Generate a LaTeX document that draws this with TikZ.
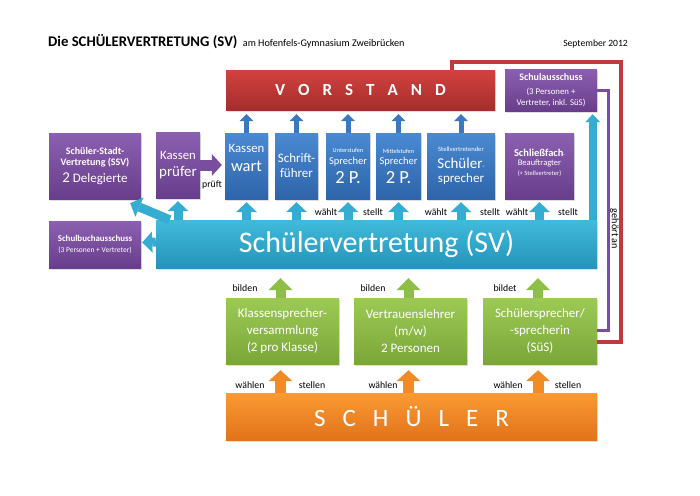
\documentclass[tikz,border=0pt]{standalone}
\usepackage{fontspec}
\setmainfont{Carlito}
\usetikzlibrary{arrows.meta,calc,shadows}
\definecolor{redT}{HTML}{D2423F}
\definecolor{redB}{HTML}{A52D2B}
\definecolor{redL}{HTML}{C0393B}
\definecolor{bluT}{HTML}{4A8AD2}
\definecolor{bluB}{HTML}{2E64AA}
\definecolor{bluA}{HTML}{3A78C2}
\definecolor{purT}{HTML}{8C60B0}
\definecolor{purB}{HTML}{673D8C}
\definecolor{purA}{HTML}{7A4E9E}
\definecolor{cyaT}{HTML}{40BADB}
\definecolor{cyaB}{HTML}{2494B8}
\definecolor{cyaA}{HTML}{35ACD2}
\definecolor{grnT}{HTML}{9DCA55}
\definecolor{grnB}{HTML}{79A638}
\definecolor{grnA}{HTML}{8DBF48}
\definecolor{orgT}{HTML}{FA9A33}
\definecolor{orgB}{HTML}{E2731A}
\definecolor{orgA}{HTML}{F38B25}
\newcommand\fs[2]{\fontsize{#1}{#2}\selectfont}
\begin{document}
\begin{tikzpicture}[x=1pt,y=-1pt,
  box/.style={inner sep=1pt, align=center, text=white,
    drop shadow={opacity=0.25, shadow xshift=1pt, shadow yshift=-1.5pt}},
  redbox/.style={box, top color=redT, bottom color=redB},
  bluebox/.style={box, top color=bluT, bottom color=bluB},
  purbox/.style={box, top color=purT, bottom color=purB},
  cyabox/.style={box, top color=cyaT, bottom color=cyaB},
  grnbox/.style={box, top color=grnT, bottom color=grnB},
  orgbox/.style={box, top color=orgT, bottom color=orgB},
  lbl/.style={inner sep=0pt, font=\fs{9.8}{11}, text=black},
  bluearr/.style={draw=bluA, line width=5pt, -{Triangle[length=7pt,width=14pt,line width=0pt]}},
  cyaarr/.style={draw=cyaA, line width=9pt, -{Triangle[length=10pt,width=21pt,line width=0pt]}},
  cyaarrs/.style={draw=cyaA, line width=8pt, -{Triangle[length=8pt,width=15pt,line width=0pt]}},
  purarr/.style={draw=purA, line width=11pt, -{Triangle[length=10pt,width=22pt,line width=0pt]}},
  grnarr/.style={draw=grnA, line width=10pt, -{Triangle[length=12pt,width=24pt,line width=0pt]}},
  orgarr/.style={draw=orgA, line width=11pt, -{Triangle[length=11pt,width=24pt,line width=0pt]}},
  redline/.style={draw=redL, line width=4pt},
  purline/.style={draw=purA, line width=3pt},
]
\path[use as bounding box, fill=white] (0,0) rectangle (700,495);

% title
\node[anchor=base west, inner sep=0pt, font=\fs{14.7}{17}\bfseries] (title) at (48,46) {Die SCHÜLERVERTRETUNG (SV)};
\node[anchor=base west, inner sep=0pt, font=\fs{10.2}{12}] (sub) at ($(title.base east)+(5,0)$) {am Hofenfels-Gymnasium Zweibrücken};
\node[anchor=base east, inner sep=0pt, font=\fs{9.6}{11}] (date) at (628,46) {September 2012};

% nodes
\node[redbox, minimum width=269pt, minimum height=40pt, font=\fs{17}{20}\bfseries] (vs) at (360.5,90)
  {V\hspace{13pt}O\hspace{13pt}R\hspace{13pt}S\hspace{13pt}T\hspace{13pt}A\hspace{13pt}N\hspace{13pt}D};
\node[purbox, minimum width=92pt, minimum height=42pt, font=\fs{8}{10.5}] (sa) at (551,90)
  {\fs{10}{11}\bfseries Schulausschuss\\[3.5pt]\fs{8.8}{10}(3 Personen +\\\fs{8.8}{10}Vertreter, inkl. SüS)};
\node[purbox, minimum width=92pt, minimum height=66pt, font=\fs{9}{11}] (ssv) at (95,166)
  {\fs{10}{11}\bfseries Schüler-Stadt-\\\fs{10}{11}\bfseries Vertretung (SSV)\\[5pt]\fs{13}{15}{\fs{15}{15}2} Delegierte};
\node[purbox, minimum width=44pt, minimum height=66pt, font=\fs{12}{17.5}] (kp) at (178,165)
  {\fs{12.8}{15}Kassen\\\fs{14.9}{16}prüfer};
\node[bluebox, minimum width=43pt, minimum height=66pt, font=\fs{12}{19.5}] (kw) at (246.5,166)
  {\fs{12.8}{14}Kassen\\\fs{16.5}{18}wart\\[-3pt]\mbox{}};
\node[bluebox, minimum width=43pt, minimum height=66pt, font=\fs{12}{15}] (sf) at (296.5,166)
  {\fs{13}{14}Schrift-\\\fs{13}{14}führer};
\node[bluebox, minimum width=44pt, minimum height=66pt, font=\fs{8}{11.5}] (us) at (348,166)
  {\fs{6.3}{7}Unterstufen\\\fs{10.5}{11}Sprecher\\[4pt]\fs{18.5}{20}2 P.};
\node[bluebox, minimum width=45pt, minimum height=66pt, font=\fs{8}{11.5}] (ms) at (398.5,166)
  {\fs{6.3}{7}Mittelstufen\\\fs{10.5}{11}Sprecher\\[4pt]\fs{18.5}{20}2 P.};
\node[bluebox, minimum width=68pt, minimum height=66pt, font=\fs{10}{14.5}] (stv) at (461,166)
  {\fs{6.6}{7}Stellvertretender\\[2.5pt]\fs{15}{16}Schüler{\fs{7}{8}-}\\\fs{13}{15}sprecher};
\node[purbox, minimum width=69pt, minimum height=66pt, font=\fs{8}{9.5}] (sfb) at (539.5,166)
  {\fs{10.5}{11}\bfseries Schließfach{\fs{5}{6}-}\\\fs{8.5}{10}Beauftragter\\\fs{6.5}{7}(+ Stellvertreter)\\[-2pt]\mbox{}};
\node[cyabox, minimum width=441pt, minimum height=48pt, font=\fs{30}{32}] (sv) at (376.5,244) {Schülervertretung (SV)};
\node[purbox, minimum width=92pt, minimum height=47pt, font=\fs{8}{10.5}] (sba) at (95,244.5)
  {\fs{8.9}{9}\bfseries Schulbuchausschuss\\\fs{7.5}{8}(3 Personen + Vertreter)};
\node[grnbox, minimum width=113pt, minimum height=66pt, font=\fs{13}{17}] (ksv) at (282.5,331)
  {Klassensprecher-\\versammlung\\(2 pro Klasse)};
\node[grnbox, minimum width=113pt, minimum height=66pt, font=\fs{13}{17}] (vl) at (410.5,331)
  {Vertrauenslehrer\\(m/w)\\2 Personen};
\node[grnbox, minimum width=114pt, minimum height=66pt, font=\fs{13}{17}] (ssp) at (540,331)
  {Schülersprecher/\\-sprecherin\\(SüS)};
\node[orgbox, minimum width=371pt, minimum height=47pt, font=\fs{25}{28}] (sch) at (411.5,416.5)
  {S\hspace{17pt}C\hspace{17pt}H\hspace{17pt}Ü\hspace{17pt}L\hspace{17pt}E\hspace{17pt}R};

% red and purple connectors
\coordinate (rtop) at (621,62);
\coordinate (ptop) at (608.5,90);
\draw[redline] ([xshift=-43pt]vs.north east) |- (rtop) |- ([yshift=-11pt]ssp.east);
\draw[purline] (sa.east) -| (ptop) |- ([yshift=1pt]ssp.east);
\node[rotate=-90, inner sep=0pt, font=\fs{10.2}{11}] (geh) at (614.5,229) {gehört an};

% blue arrows to Vorstand
\foreach \n in {kw,sf,us,ms,stv}
  \draw[bluearr] (\n.north) -- ($(vs.south -| \n.north)+(0,4)$);

% cyan arrows from SV
\foreach \n in {kp,kw,sf,us,ms,stv,sfb}
  \draw[cyaarr] (sv.north -| \n.south) -- ($(\n.south)+(0,3)$);
\draw[cyaarrs] ($(sv.north east)+(-4.5,0)$) -- ($(sa.south east)+(-4.5,3)$);
\draw[cyaarr] ($(sv.north west)+(14,0)$) -- ($(ssv.south east)+(-11,4)$);
\draw[cyaarr] ($(sv.west)+(0,-2)$) -- ($(sba.east)+(1,-2)$);

% purple arrow
\draw[purarr] ($(kp.east)+(0,0)$) -- ($(kw.west)+(-3,-1)$);
\node[lbl] (pr) at (212,185) {prüft};

% labels wählt / stellt
\node[lbl] (w1) at (326,212) {wählt};
\node[lbl] (s1) at (373,212) {stellt};
\node[lbl] (w2) at (436,212) {wählt};
\node[lbl] (s2) at (490,212) {stellt};
\node[lbl] (w3) at (517,212) {wählt};
\node[lbl] (s3) at (568,212) {stellt};

% green arrows
\foreach \n in {ksv,vl,ssp}
  \draw[grnarr] ($(\n.north)+(-2,0)$) -- ($(sv.south -| \n.north)+(-2,10)$);
\node[lbl] (b1) at (245,288) {bilden};
\node[lbl] (b2) at (373,288) {bilden};
\node[lbl] (b3) at (505,288) {bildet};

% orange arrows
\foreach \n in {ksv,vl,ssp}
  \draw[orgarr] (sch.north -| \n.south) ++(-2,0) -- ($(\n.south)+(-2,6)$);
\node[lbl] (wa1) at (250,385) {wählen};
\node[lbl] (st1) at (312,385) {stellen};
\node[lbl] (wa2) at (383,385) {wählen};
\node[lbl] (wa3) at (508,385) {wählen};
\node[lbl] (st3) at (568,385) {stellen};
\end{tikzpicture}
\end{document}
